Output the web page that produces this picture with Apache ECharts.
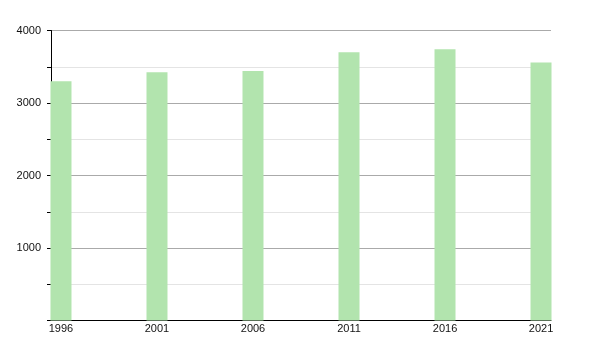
<!DOCTYPE html>
<html>
<head>
<meta charset="utf-8">
<script src="https://cdn.jsdelivr.net/npm/echarts@6/dist/echarts.min.js"></script>
<style>html,body{margin:0;padding:0;background:#fff}#c{width:600px;height:350px}</style>
</head>
<body>
<div id="c"></div>
<script>
const years = [1996, 2001, 2006, 2011, 2016, 2021];
const values = [3300, 3425, 3440, 3700, 3740, 3560];
const yTickLabels = [1000, 2000, 3000, 4000];

const chart = echarts.init(document.getElementById('c'), null, {renderer: 'canvas'});
chart.setOption({
  animation: false,
  grid: {left: 51, right: 49, top: 30.5, bottom: 29.5, containLabel: false},
  xAxis: {
    type: 'value',
    min: 1995.48,
    max: 2021.52,
    axisLine: {show: true, onZero: false, lineStyle: {color: '#000', width: 1}},
    axisTick: {show: false},
    splitLine: {show: false},
    axisLabel: {
      customValues: years,
      color: '#111',
      fontSize: 11,
      fontFamily: 'Liberation Sans, Arial, sans-serif',
      margin: 3,
      formatter: v => String(Math.round(v))
    }
  },
  yAxis: {
    type: 'value',
    min: 0,
    max: 4000,
    interval: 500,
    axisLine: {show: true, lineStyle: {color: '#000', width: 1}},
    axisTick: {show: true, length: 4, lineStyle: {color: '#000'}},
    splitLine: {show: true, lineStyle: {color: ['#aaaaaa', '#e4e4e4'], width: 1}},
    axisLabel: {
      color: '#111',
      fontSize: 11,
      fontFamily: 'Liberation Sans, Arial, sans-serif',
      margin: 10,
      formatter: v => yTickLabels.includes(v) ? String(v) : ''
    }
  },
  series: [{
    type: 'bar',
    data: years.map((y, i) => [y, values[i]]),
    barWidth: 21,
    itemStyle: {color: '#b2e4ae'},
    z: 1
  }]
});
</script>
</body>
</html>
